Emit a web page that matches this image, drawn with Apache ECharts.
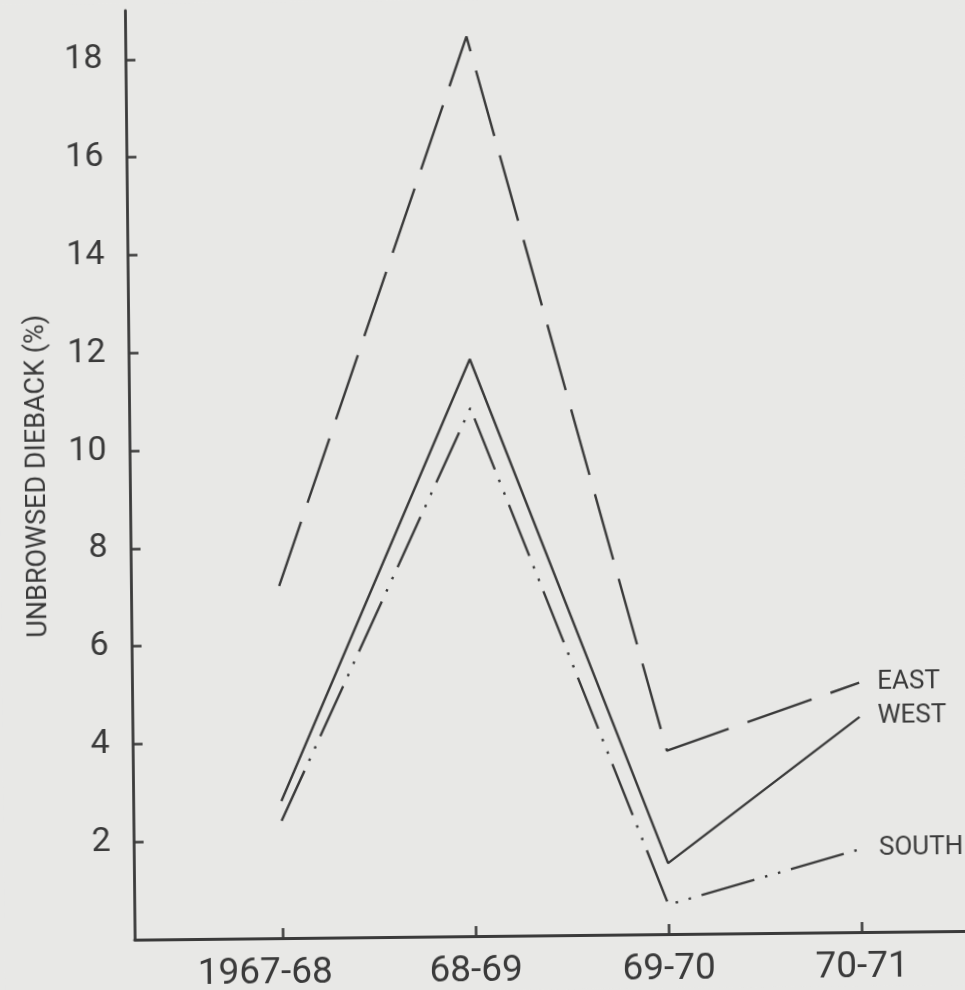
<!DOCTYPE html>
<html lang="en">
  <head>
    <meta charset="UTF-8" />
    <title>Unbrowsed dieback</title>
    <style>
      html,
      body {
        margin: 0;
        background-color: #e8e8e6;
        overflow: hidden;
      }
      #main {
        width: 965px;
        height: 990px;
        /* the scan is a little tilted */
        transform: rotate(-0.6deg);
      }
    </style>
  </head>
  <body>
    <div id="main"></div>
    <script src="https://cdn.jsdelivr.net/npm/echarts@6.0.0/dist/echarts.min.js"></script>

    <script>
      const winters = ["1967-68", "68-69", "69-70", "70-71"];
      const east = [7.2, 18.4, 3.75, 5.1];
      const west = [2.8, 11.8, 1.45, 4.4];
      const south = [2.4, 10.8, 0.6, 1.7];
      const yTicks = [2, 4, 6, 8, 10, 12, 14, 16, 18];

      const ink = "#3a3a3a";
      const font = "Roboto, 'Liberation Sans', sans-serif";

      const toPoints = (vals) => vals.map((v, i) => [i, v]);

      const myChart = echarts.init(document.getElementById("main"));

      const lineSeries = (name, vals, type) => ({
        name: name,
        type: "line",
        data: toPoints(vals),
        symbol: "none",
        lineStyle: { color: ink, width: 2.4, type: type, cap: "butt" },
        endLabel: {
          show: true,
          formatter: "{a}",
          distance: 18,
          color: ink,
          fontFamily: font,
          fontSize: 26,
        },
        silent: true,
      });

      const option = {
        animation: false,
        backgroundColor: "#e8e8e6",
        grid: { left: 130, right: 3, top: 7, bottom: 54 },
        xAxis: {
          type: "value",
          min: -0.768,
          max: 3.543,
          splitLine: { show: false },
          axisLine: { lineStyle: { color: ink, width: 2.8 } },
          axisTick: {
            customValues: [0, 1, 2, 3],
            inside: true,
            length: 10,
            lineStyle: { color: ink, width: 2.5 },
          },
          axisLabel: {
            customValues: [0, 1, 2, 3],
            margin: 17,
            color: ink,
            fontFamily: font,
            fontSize: 37,
            formatter: (v) => {
              const i = Math.round(v);
              return i === 0 ? "{first|" + winters[i] + "}" : winters[i];
            },
            rich: {
              first: { fontFamily: font, fontSize: 37, color: ink, padding: [0, 36, 0, 0] },
            },
          },
        },
        yAxis: {
          type: "value",
          min: 0,
          max: 19,
          name: "UNBROWSED DIEBACK (%)",
          nameLocation: "middle",
          nameGap: 78,
          nameTextStyle: { color: ink, fontFamily: font, fontSize: 27 },
          splitLine: { show: false },
          axisLine: { show: true, onZero: false, lineStyle: { color: ink, width: 2.8 } },
          axisTick: {
            customValues: yTicks,
            inside: true,
            length: 10,
            lineStyle: { color: ink, width: 2.5 },
          },
          axisLabel: {
            customValues: yTicks,
            margin: 23,
            color: ink,
            fontFamily: font,
            fontSize: 34,
          },
        },
        series: [
          lineSeries("EAST", east, [68, 20]),
          lineSeries("WEST", west, "solid"),
          lineSeries("SOUTH", south, [55, 11, 2.5, 11, 2.5, 11]),
        ],
      };
      myChart.setOption(option);
    </script>
  </body>
</html>
